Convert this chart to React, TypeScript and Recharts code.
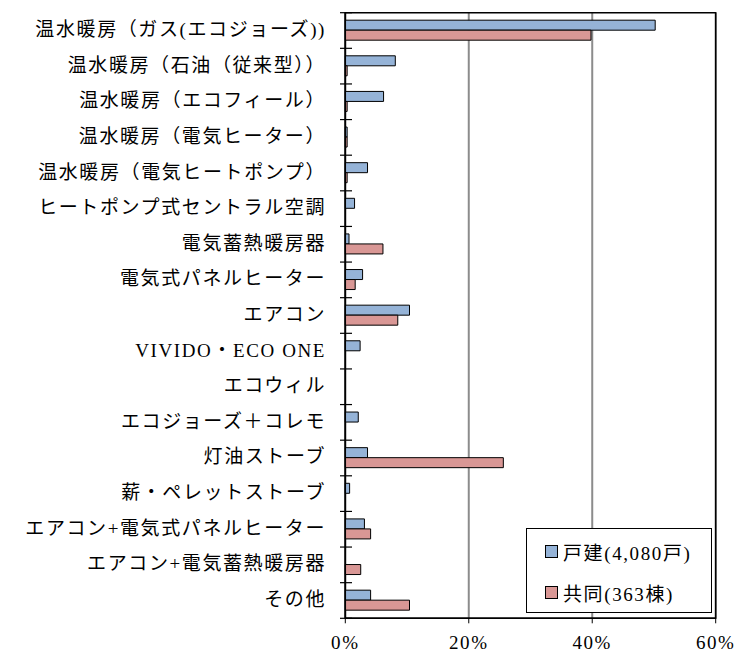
import { Bar, BarChart, CartesianGrid, Legend, ReferenceArea, XAxis, YAxis } from "recharts";

const categories = [
  "温水暖房（ガス(エコジョーズ))",
  "温水暖房（石油（従来型））",
  "温水暖房（エコフィール）",
  "温水暖房（電気ヒーター）",
  "温水暖房（電気ヒートポンプ）",
  "ヒートポンプ式セントラル空調",
  "電気蓄熱暖房器",
  "電気式パネルヒーター",
  "エアコン",
  "VIVIDO・ECO ONE",
  "エコウィル",
  "エコジョーズ＋コレモ",
  "灯油ストーブ",
  "薪・ペレットストーブ",
  "エアコン+電気式パネルヒーター",
  "エアコン+電気蓄熱暖房器",
  "その他",
];

const detached = [50.2, 8.1, 6.2, 0.3, 3.6, 1.5, 0.6, 2.8, 10.4, 2.4, 0, 2.1, 3.6, 0.7, 3.1, 0, 4.1];
const shared = [39.8, 0.3, 0.3, 0.3, 0.3, 0, 6.1, 1.6, 8.5, 0, 0, 0, 25.6, 0, 4.1, 2.5, 10.4];

const xTicks = [0, 20, 40, 60];
const seriesNames = ["戸建(4,080戸)", "共同(363棟)"];
const colors = ["#95B3D7", "#D99795"];

const data = categories.map((name, i) => ({ name, detached: detached[i], shared: shared[i] }));

const font = "'Liberation Serif', 'Noto Sans CJK JP', serif";
const plotTop = 12.7;
const plotBottom = 618.3;
const half = (plotBottom - plotTop) / categories.length / 2;

const CategoryTick = (props: any) => {
  const { y, payload, index } = props;
  return (
    <g>
      <text
        x={326}
        y={y - 1}
        textAnchor="end"
        dominantBaseline="central"
        fontSize={19}
        letterSpacing={1.6}
        fill="#000"
        fontFamily={font}
      >
        {payload.value}
      </text>
      <line x1={340} x2={352} y1={y - half} y2={y - half} stroke="#000" strokeWidth={1.2} />
      {index === categories.length - 1 && (
        <line x1={340} x2={352} y1={y + half} y2={y + half} stroke="#000" strokeWidth={1.2} />
      )}
    </g>
  );
};

const LegendBox = () => (
  <div
    style={{
      border: "1.5px solid #000",
      background: "#fff",
      width: 186,
      height: 85,
      boxSizing: "border-box",
      fontFamily: font,
      fontSize: 19,
      letterSpacing: 1.6,
      padding: "6px 0 0 18px",
    }}
  >
    {seriesNames.map((n, i) => (
      <div key={n} style={{ display: "flex", alignItems: "center", height: 32, marginBottom: 9 }}>
        <span
          style={{
            display: "inline-block",
            width: 11,
            height: 11,
            background: colors[i],
            border: "1px solid #000",
            marginRight: 5,
          }}
        />
        <span>{n}</span>
      </div>
    ))}
  </div>
);

export default function App() {
  return (
    <div style={{ position: "absolute", left: 0, top: 0 }}>
      <BarChart
        width={737}
        height={657}
        data={data}
        layout="vertical"
        margin={{ top: plotTop, right: 21.3, bottom: 8.7, left: 0 }}
        barCategoryGap="21%"
        barGap={0}
      >
        <CartesianGrid horizontal={false} stroke="#8c8c8c" strokeWidth={2} />
        <XAxis
          type="number"
          domain={[0, 60]}
          ticks={xTicks}
          tickFormatter={(v) => `${v}%`}
          height={30}
          tickSize={5}
          tickMargin={12}
          axisLine={{ stroke: "#000", strokeWidth: 1.5 }}
          tickLine={{ stroke: "#000" }}
          tick={{ fill: "#000", fontSize: 19, fontFamily: font, letterSpacing: 1.6 }}
        />
        <YAxis
          type="category"
          dataKey="name"
          width={345.3}
          interval={0}
          tickLine={false}
          axisLine={{ stroke: "#000", strokeWidth: 1.5 }}
          tick={<CategoryTick />}
        />
        <Bar dataKey="detached" name={seriesNames[0]} fill={colors[0]} stroke="#000" strokeWidth={1} isAnimationActive={false} />
        <Bar dataKey="shared" name={seriesNames[1]} fill={colors[1]} stroke="#000" strokeWidth={1} isAnimationActive={false} />
        <ReferenceArea x1={0} x2={60} fill="none" stroke="#000" strokeWidth={1.5} />
        <Legend
          layout="vertical"
          align="center"
          verticalAlign="middle"
          content={<LegendBox />}
          wrapperStyle={{ left: 526, top: 528, width: 186, height: 85 }}
        />
      </BarChart>
    </div>
  );
}
